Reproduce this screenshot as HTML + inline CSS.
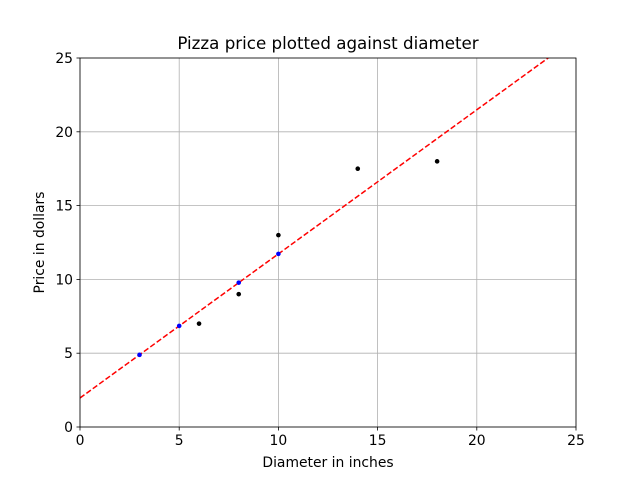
<!DOCTYPE html>
<html><head><meta charset="utf-8"><style>
body{margin:0;background:#fff}
svg{font-family:"DejaVu Sans","Liberation Sans",sans-serif}
</style></head><body>
<svg id="c" width="640" height="480" xmlns="http://www.w3.org/2000/svg"></svg>
<script>
const xTicks=[0,5,10,15,20,25];
const yTicks=[0,5,10,15,20,25];
const trainX=[6,8,10,14,18];
const trainY=[7,9,13,17.5,18];
const testX=[3,5,8,10];
const testY=[4.89,6.85,9.78,11.73];
const intercept=1.9655;
const slope=0.9763;
const L=80,R=576,T=58,B=427;
const sx=v=>L+(v-0)/25*(R-L);
const sy=v=>B-(v-0)/25*(B-T);
const svg=document.getElementById('c');
const NS='http://www.w3.org/2000/svg';
function mk(tag,attrs,parent){const e=document.createElementNS(NS,tag);for(const k in attrs)e.setAttribute(k,attrs[k]);(parent||svg).appendChild(e);return e;}
xTicks.forEach(t=>{const g=mk('line',{x1:sx(t),x2:sx(t),y1:T,y2:B,stroke:'#b0b0b0','stroke-width':0.8});

});
yTicks.forEach(t=>{const g=mk('line',{x1:L,x2:R,y1:sy(t),y2:sy(t),stroke:'#b0b0b0','stroke-width':0.8});

});
const cp=mk('clipPath',{id:'clip'});mk('rect',{x:L,y:T,width:R-L,height:B-T},cp);
const ln=mk('line',{x1:sx(0),y1:sy(intercept),x2:sx(25),y2:sy(intercept+slope*25),stroke:'#ff0000','stroke-width':1.5,'stroke-dasharray':'5.5,2.4','clip-path':'url(#clip)'});


trainX.forEach((x,i)=>{const p=mk('circle',{cx:sx(x),cy:sy(trainY[i]),r:2.3,fill:'#000'});

});
testX.forEach((x,i)=>{const p=mk('circle',{cx:sx(x),cy:sy(testY[i]),r:2.3,fill:'#0000ff'});

});
const fr=mk('rect',{x:L,y:T,width:R-L,height:B-T,fill:'none',stroke:'#000','stroke-width':0.8});


xTicks.forEach(t=>{mk('line',{x1:sx(t),x2:sx(t),y1:B,y2:B+3.5,stroke:'#000','stroke-width':0.8});
const tx=mk('text',{x:sx(t),y:B+18,'text-anchor':'middle','font-size':13.9});tx.textContent=t;

});
yTicks.forEach(t=>{mk('line',{x1:L-3.5,x2:L,y1:sy(t),y2:sy(t),stroke:'#000','stroke-width':0.8});
const tx=mk('text',{x:L-7,y:sy(t)+5,'text-anchor':'end','font-size':13.9});tx.textContent=t;

});
</script>
<svg width="640" height="480" style="position:absolute;left:0;top:0;font-family:'DejaVu Sans','Liberation Sans',sans-serif">
<text x="328" y="49" text-anchor="middle" font-size="16.7">Pizza price plotted against diameter</text>
<text x="328" y="467" text-anchor="middle" font-size="13.9">Diameter in inches</text>
<text transform="translate(44,242.5) rotate(-90)" text-anchor="middle" font-size="13.9">Price in dollars</text>
</svg>
</body></html>
